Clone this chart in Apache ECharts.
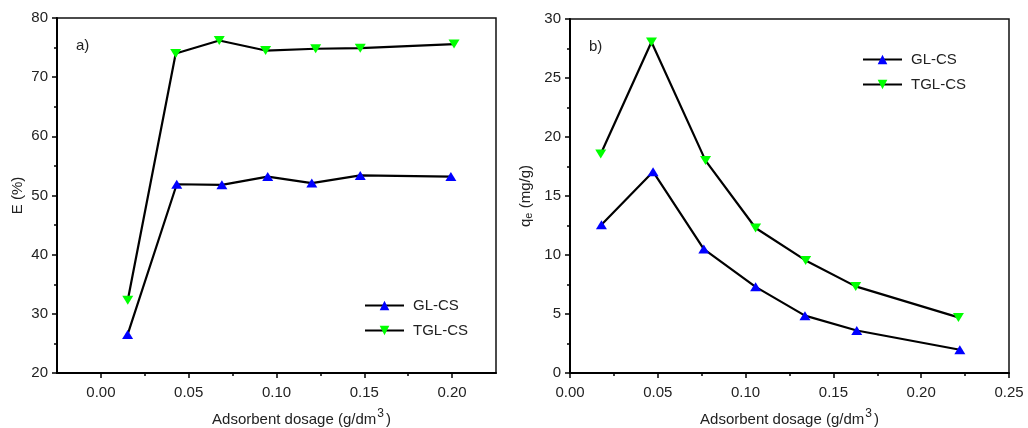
<!DOCTYPE html>
<html>
<head>
<meta charset="utf-8">
<style>
  html, body { margin: 0; padding: 0; background: #fff; }
  #chart { width: 1028px; height: 428px; }
</style>
<script src="https://cdn.jsdelivr.net/npm/echarts@6/dist/echarts.min.js"></script>
</head>
<body>
<div id="chart"></div>
<script>
// Panel a) removal efficiency E (%) vs adsorbent dosage
const dosageA_GL  = [0.0152, 0.0432, 0.0689, 0.0950, 0.1201, 0.1477, 0.1993];
const dosageA_TGL = [0.0153, 0.0426, 0.0674, 0.0938, 0.1223, 0.1477, 0.2011];
const effGL  = [26.5, 51.9, 51.8, 53.2, 52.1, 53.4, 53.2];
const effTGL = [32.3, 74.0, 76.2, 74.5, 74.8, 74.9, 75.6];

// Panel b) adsorption capacity qe (mg/g) vs adsorbent dosage
const dosageB_GL  = [0.0179, 0.0473, 0.0762, 0.1057, 0.1338, 0.1633, 0.2220];
const dosageB_TGL = [0.0175, 0.0464, 0.0772, 0.1057, 0.1342, 0.1627, 0.2212];
const qeGL  = [12.57, 17.06, 10.5, 7.3, 4.86, 3.6, 1.97];
const qeTGL = [18.56, 28.05, 18.0, 12.29, 9.54, 7.34, 4.71];

// Tick positions
const xTicksA = [0, 0.05, 0.10, 0.15, 0.20];
const xMinorA = [0.025, 0.075, 0.125, 0.175];
const xTicksB = [0, 0.05, 0.10, 0.15, 0.20, 0.25];
const xMinorB = [0.025, 0.075, 0.125, 0.175, 0.225];

const seriesNames = ['GL-CS', 'TGL-CS'];

const pairs = (xs, ys) => xs.map((x, i) => [x, ys[i]]);

const FONT = '"Liberation Sans", Arial, sans-serif';
const labelStyle = { color: '#222', fontSize: 15, fontFamily: FONT };

function mainX(gridIndex, min, max, ticks, nameOffset) {
  return {
    type: 'value', gridIndex, min, max, position: 'bottom',
    splitLine: { show: false },
    axisLine: { show: true, onZero: false, lineStyle: { color: '#000', width: 2 } },
    axisTick: { show: true, inside: false, length: 5, customValues: ticks, lineStyle: { color: '#000', width: 1.5 } },
    axisLabel: Object.assign({ margin: 12, customValues: ticks, formatter: v => v.toFixed(2) }, labelStyle),
    name: 'Adsorbent dosage (g/dm{sup|3}{n|)}',
    nameLocation: 'middle',
    nameGap: 35,
    nameTextStyle: {
      color: '#222', fontSize: 15, fontFamily: FONT,
      padding: [0, 0, 0, nameOffset],
      rich: {
        sup: { fontSize: 12, fontFamily: FONT, color: '#222', verticalAlign: 'top', padding: [0, 2, 12, 1] },
        n: { fontSize: 15, fontFamily: FONT, color: '#222' }
      }
    }
  };
}

function minorX(gridIndex, min, max, ticks) {
  return {
    type: 'value', gridIndex, min, max, position: 'bottom',
    splitLine: { show: false },
    axisLine: { show: false, onZero: false },
    axisTick: { show: true, length: 3, customValues: ticks, lineStyle: { color: '#000', width: 1.5 } },
    axisLabel: { show: false }
  };
}

function mainY(gridIndex, min, max, interval, name, gap) {
  return {
    type: 'value', gridIndex, min, max, interval, position: 'left',
    splitLine: { show: false },
    axisLine: { show: true, onZero: false, lineStyle: { color: '#000', width: 2 } },
    axisTick: { show: true, length: 5, lineStyle: { color: '#000', width: 1.5 } },
    minorTick: { show: true, splitNumber: 2, length: 3, lineStyle: { color: '#000', width: 1.5 } },
    minorSplitLine: { show: false },
    axisLabel: Object.assign({ margin: 9 }, labelStyle),
    name,
    nameLocation: 'middle',
    nameRotate: 90,
    nameGap: gap,
    nameTextStyle: {
      color: '#222', fontSize: 15, fontFamily: FONT,
      rich: {
        sub: { fontSize: 11, fontFamily: FONT, color: '#222', verticalAlign: 'bottom', padding: [6, 0, 0, 0] }
      }
    }
  };
}

function lineSeries(name, xIdx, yIdx, data, colour, down) {
  return {
    name, type: 'line',
    xAxisIndex: xIdx, yAxisIndex: yIdx,
    data,
    symbol: 'triangle',
    symbolSize: [11, 9],
    symbolRotate: down ? 180 : 0,
    itemStyle: { color: colour, borderWidth: 0 },
    lineStyle: { color: '#000', width: 2.2 },
    emphasis: { disabled: true },
    animation: false,
    z: 3
  };
}

const legendBase = {
  orient: 'vertical',
  itemWidth: 39,
  itemHeight: 12,
  itemGap: 10,
  data: seriesNames,
  textStyle: { color: '#222', fontSize: 15, fontFamily: FONT, padding: [0, 0, 0, 4] },
  selectedMode: false
};

const gridBase = {
  show: true, borderColor: '#111', borderWidth: 1.5, backgroundColor: 'transparent',
  containLabel: false, outerBoundsMode: 'none'
};

const chart = echarts.init(document.getElementById('chart'), null, { renderer: 'canvas' });

chart.setOption({
  backgroundColor: '#fff',
  animation: false,
  grid: [
    Object.assign({ left: 57, top: 18, width: 439, height: 355 }, gridBase),
    Object.assign({ left: 570, top: 19, width: 439, height: 354 }, gridBase)
  ],
  xAxis: [
    mainX(0, -0.025, 0.225, xTicksA, 50),
    minorX(0, -0.025, 0.225, xMinorA),
    mainX(1, 0, 0.25, xTicksB, 0),
    minorX(1, 0, 0.25, xMinorB)
  ],
  yAxis: [
    mainY(0, 20, 80, 10, 'E (%)', 32),
    mainY(1, 0, 30, 5, 'q{sub|e} (mg/g)', 36)
  ],
  legend: [
    Object.assign({ left: 359, top: 293 }, legendBase),
    Object.assign({ left: 857, top: 47 }, legendBase)
  ],
  graphic: [
    { type: 'text', left: 76, top: 38, style: { text: 'a)', fill: '#222', font: '15px ' + FONT } },
    { type: 'text', left: 589, top: 39, style: { text: 'b)', fill: '#222', font: '15px ' + FONT } }
  ],
  series: [
    lineSeries('GL-CS', 0, 0, pairs(dosageA_GL, effGL), '#0000ff', false),
    lineSeries('TGL-CS', 0, 0, pairs(dosageA_TGL, effTGL), '#00ff00', true),
    lineSeries('GL-CS', 2, 1, pairs(dosageB_GL, qeGL), '#0000ff', false),
    lineSeries('TGL-CS', 2, 1, pairs(dosageB_TGL, qeTGL), '#00ff00', true)
  ]
});
</script>
</body>
</html>
